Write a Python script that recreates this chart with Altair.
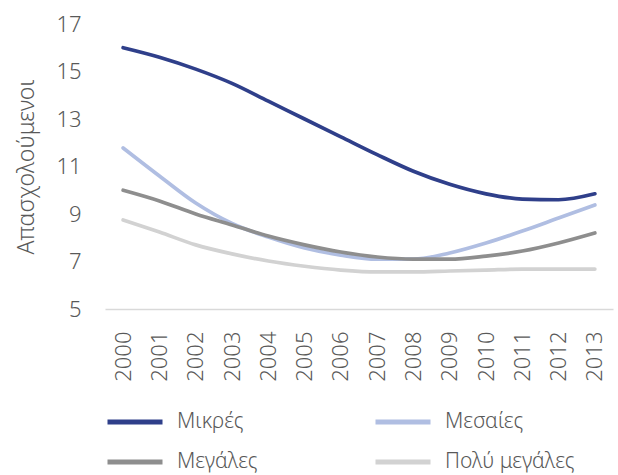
import altair as alt
import pandas as pd

years = [str(y) for y in range(2000, 2014)]

mikres = [16.0, 15.6, 15.1, 14.5, 13.75, 13.0, 12.25, 11.5, 10.8, 10.25, 9.85, 9.63, 9.6, 9.85]
mesaies = [11.78, 10.6, 9.46, 8.6, 8.03, 7.57, 7.27, 7.1, 7.1, 7.36, 7.78, 8.28, 8.83, 9.38]
megales = [10.0, 9.55, 9.0, 8.54, 8.07, 7.7, 7.4, 7.19, 7.1, 7.1, 7.23, 7.44, 7.78, 8.2]
poly_megales = [8.75, 8.24, 7.7, 7.32, 7.02, 6.8, 6.64, 6.56, 6.56, 6.6, 6.64, 6.68, 6.68, 6.68]

series_names = ["Μικρές", "Μεσαίες", "Μεγάλες", "Πολύ μεγάλες"]
series_colors = ["#2F3F8A", "#B0BEE2", "#8E8E8E", "#D2D2D2"]

rows = []
for name, vals in zip(series_names, [mikres, mesaies, megales, poly_megales]):
    for yr, v in zip(years, vals):
        rows.append({"Έτος": yr, "Σειρά": name, "Τιμή": v})
df = pd.DataFrame(rows)

FONT = "Noto Sans"
TXT = "#595959"

chart = (
    alt.Chart(df)
    .mark_line(interpolate="monotone", strokeWidth=3.7, strokeCap="round")
    .encode(
        x=alt.X(
            "Έτος:O",
            sort=years,
            scale=alt.Scale(padding=0.5),
            axis=alt.Axis(
                title=None,
                labelAngle=-90,
                labelAlign="right",
                labelBaseline="middle",
                labelPadding=22,
                labelFontSize=22,
                labelFontWeight=300,
                labelColor=TXT,
                labelFont=FONT,
                ticks=False,
                domainColor="#D9D9D9",
                domainWidth=1.5,
                grid=False,
            ),
        ),
        y=alt.Y(
            "Τιμή:Q",
            scale=alt.Scale(domain=[5, 17], nice=False, zero=False),
            axis=alt.Axis(
                title="Απασχολούμενοι",
                titleFont=FONT,
                titleFontSize=23,
                titleFontWeight=300,
                titleColor=TXT,
                titlePadding=17,
                values=[5, 7, 9, 11, 13, 15, 17],
                labelFontSize=22,
                labelFontWeight=300,
                labelColor=TXT,
                labelFont=FONT,
                labelPadding=24,
                ticks=False,
                domain=False,
                grid=False,
            ),
        ),
        color=alt.Color(
            "Σειρά:N",
            scale=alt.Scale(domain=series_names, range=series_colors),
            legend=alt.Legend(
                title=None,
                orient="none",
                legendX=0,
                legendY=368,
                columns=2,
                direction="horizontal",
                symbolType="stroke",
                symbolSize=3025,
                symbolStrokeWidth=5,
                labelFont=FONT,
                labelFontSize=21,
                labelFontWeight=300,
                labelColor=TXT,
                labelLimit=300,
                columnPadding=107,
                rowPadding=-14,
                labelOffset=12,
            ),
        ),
        order=alt.Order("Έτος:O"),
    )
    .properties(
        width=508,
        height=285,
        autosize=alt.AutoSizeParams(type="none"),
        padding={"left": 105, "top": 24, "right": 5, "bottom": 166},
    )
    .configure_view(stroke=None)
)

chart.save("out.html", embed_options={"renderer": "svg", "actions": False})
